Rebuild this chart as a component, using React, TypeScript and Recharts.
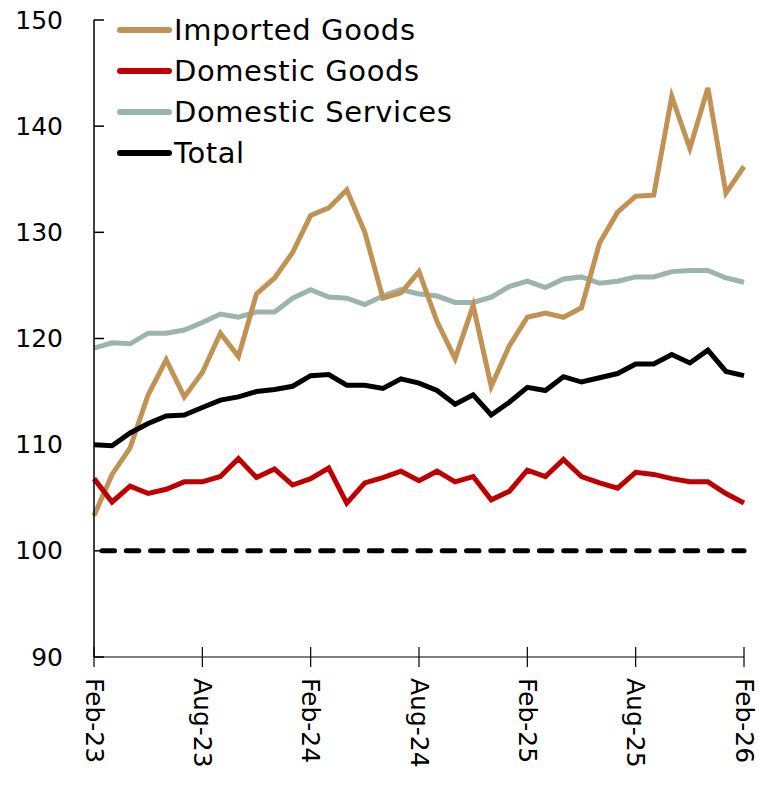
import { LineChart, Line, XAxis, YAxis, ReferenceLine } from "recharts"

const months = [
  "Feb-23", "Mar-23", "Apr-23", "May-23", "Jun-23", "Jul-23", "Aug-23", "Sep-23", "Oct-23", "Nov-23", "Dec-23", "Jan-24",
  "Feb-24", "Mar-24", "Apr-24", "May-24", "Jun-24", "Jul-24", "Aug-24", "Sep-24", "Oct-24", "Nov-24", "Dec-24", "Jan-25",
  "Feb-25", "Mar-25", "Apr-25", "May-25", "Jun-25", "Jul-25", "Aug-25", "Sep-25", "Oct-25", "Nov-25", "Dec-25", "Jan-26",
  "Feb-26",
]

const importedGoods = [
  103.3, 107.2, 109.7, 114.7, 118.0, 114.5, 116.8, 120.5, 118.3, 124.2, 125.7, 128.1,
  131.6, 132.3, 134.0, 130.0, 123.8, 124.3, 126.3, 121.6, 118.1, 123.1, 115.5, 119.3,
  122.0, 122.4, 122.0, 122.9, 129.0, 131.9, 133.4, 133.5, 142.8, 137.9, 143.6, 133.7,
  136.2,
]

const domesticGoods = [
  106.8, 104.6, 106.1, 105.4, 105.8, 106.5, 106.5, 107.0, 108.7, 106.9, 107.7, 106.2,
  106.8, 107.8, 104.5, 106.4, 106.9, 107.5, 106.6, 107.5, 106.5, 107.0, 104.8, 105.6,
  107.6, 107.0, 108.6, 107.0, 106.4, 105.9, 107.4, 107.2, 106.8, 106.5, 106.5, 105.4,
  104.5,
]

const domesticServices = [
  119.1, 119.6, 119.5, 120.5, 120.5, 120.8, 121.5, 122.3, 122.0, 122.5, 122.5, 123.8,
  124.6, 123.9, 123.8, 123.2, 124.0, 124.6, 124.2, 124.0, 123.4, 123.4, 123.9, 124.9,
  125.4, 124.8, 125.6, 125.8, 125.2, 125.4, 125.8, 125.8, 126.3, 126.4, 126.4, 125.7,
  125.3,
]

const total = [
  110.0, 109.9, 111.1, 112.0, 112.7, 112.8, 113.5, 114.2, 114.5, 115.0, 115.2, 115.5,
  116.5, 116.6, 115.6, 115.6, 115.3, 116.2, 115.8, 115.1, 113.8, 114.7, 112.8, 114.0,
  115.4, 115.1, 116.4, 115.9, 116.3, 116.7, 117.6, 117.6, 118.5, 117.7, 118.9, 116.9,
  116.5,
]

const yTicks = [90, 100, 110, 120, 130, 140, 150]

const FONT = "'DejaVu Sans', sans-serif"

const series = [
  { key: "importedGoods", name: "Imported Goods", color: "#C09355" },
  { key: "domesticGoods", name: "Domestic Goods", color: "#C00000" },
  { key: "domesticServices", name: "Domestic Services", color: "#9BB5AD" },
  { key: "total", name: "Total", color: "#000000" },
]

const data = months.map((m, i) => ({
  month: m,
  importedGoods: importedGoods[i],
  domesticGoods: domesticGoods[i],
  domesticServices: domesticServices[i],
  total: total[i],
}))

const YTick = (props: any) => {
  const { x, y, payload } = props
  return (
    <g>
      <line x1={x} x2={x + 10} y1={y} y2={y} stroke="#000" strokeWidth={1.5} />
      <text x={x - 31} y={y} textAnchor="end" dominantBaseline="central" fontSize={25} fontFamily={FONT} fill="#000">
        {payload.value}
      </text>
    </g>
  )
}

const XTick = (props: any) => {
  const { x, y, payload } = props
  return (
    <g>
      <line x1={x} x2={x} y1={y - 10} y2={y + 10} stroke="#000" strokeWidth={1.2} />
      <text
        x={x}
        y={y + 21}
        transform={`rotate(90 ${x} ${y + 21})`}
        textAnchor="start"
        dominantBaseline="central"
        fontSize={25}
        fontFamily={FONT}
        fill="#000"
      >
        {payload.value}
      </text>
    </g>
  )
}

const LegendBox = () => (
  <div style={{ position: "absolute", left: 117, top: 9, fontFamily: FONT, fontSize: 29, color: "#000", whiteSpace: "nowrap" }}>
    {series.map(s => (
      <div key={s.key} style={{ display: "flex", alignItems: "center", height: 41 }}>
        <div style={{ width: 55, height: 6, borderRadius: 3, background: s.color, marginRight: 2 }} />
        <span style={{ letterSpacing: 0.6 }}>{s.name}</span>
      </div>
    ))}
  </div>
)

const drawOrder = ["domesticServices", "importedGoods", "domesticGoods", "total"]

export default function App() {
  return (
    <div style={{ position: "absolute", left: 0, top: 0, width: 759, height: 790, background: "#fff" }}>
      <LineChart width={759} height={790} data={data} margin={{ top: 20, right: 15, left: 0, bottom: 0 }}>
        <XAxis
          dataKey="month"
          interval={5}
          height={133}
          tickSize={0}
          tickMargin={0}
          tickLine={false}
          tick={<XTick />}
          axisLine={{ stroke: "#000", strokeWidth: 1.2 }}
        />
        <YAxis
          domain={[90, 150]}
          ticks={yTicks}
          width={94}
          tickSize={0}
          tickMargin={0}
          tickLine={false}
          tick={<YTick />}
          axisLine={{ stroke: "#000", strokeWidth: 1.5 }}
        />
        <ReferenceLine
          y={100}
          stroke="#000"
          strokeWidth={5}
          strokeDasharray="12.5 11.8"
          strokeLinecap="round"
          strokeDashoffset={-8}
        />
        {drawOrder.map(k => {
          const s = series.find(x => x.key === k)!
          return (
            <Line
              key={s.key}
              type="linear"
              dataKey={s.key}
              name={s.name}
              stroke={s.color}
              strokeWidth={5}
              dot={false}
              activeDot={false}
              isAnimationActive={false}
            />
          )
        })}
      </LineChart>
      <LegendBox />
    </div>
  )
}
